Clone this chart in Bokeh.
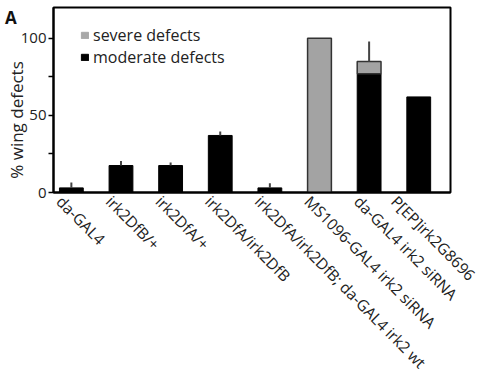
from bokeh.plotting import figure
from bokeh.models import Range1d, FixedTicker, Legend, LegendItem, Div
from bokeh.layouts import column
from bokeh.embed import file_html
from bokeh.resources import INLINE

categories = ["da-GAL4", "irk2DfB/+", "irk2DfA/+", "irk2DfA/irk2DfB",
              "irk2DfA/irk2DfB; da-GAL4 irk2 wt", "MS1096-GAL4 irk2 siRNA",
              "da-GAL4 irk2 siRNA", "P[EP]irk2G8696"]
moderate = [3, 17.5, 17.5, 37, 3, 0, 77, 62]
severe = [0, 0, 0, 0, 0, 100, 8, 0]
error = [3.5, 3, 2, 2.5, 3, 0, 13, 0]
y_ticks = [0, 50, 100]
y_minor = [25, 75]
y_title = "% wing defects"
panel_letter = "A"

FONT = "Open Sans"
xs = list(range(len(categories)))
totals = [m + s for m, s in zip(moderate, severe)]

p = figure(frame_width=397, frame_height=185, output_backend="svg",
           toolbar_location=None, x_range=Range1d(-0.36, 7.64),
           y_range=Range1d(0, 120), min_border_left=53, min_border_top=7,
           min_border_right=30, min_border_bottom=150)
p.border_fill_alpha = 0
p.xgrid.visible = False
p.ygrid.visible = False
p.outline_line_color = "black"
p.outline_line_width = 2

p.vbar(x=xs, top=moderate, bottom=0, width=0.48, fill_color="black",
       line_color="black", line_width=1)
sev_x = [x for x, s in zip(xs, severe) if s > 0]
sev_b = [m for m, s in zip(moderate, severe) if s > 0]
sev_t = [m + s for m, s in zip(moderate, severe) if s > 0]
p.vbar(x=sev_x, top=sev_t, bottom=sev_b, width=0.48, fill_color="#a3a3a3",
       line_color="#333333", line_width=1.5)
ex = [x for x, e in zip(xs, error) if e > 0]
e0 = [t for t, e in zip(totals, error) if e > 0]
e1 = [t + e for t, e in zip(totals, error) if e > 0]
p.segment(x0=ex, y0=e0, x1=ex, y1=e1, line_color="#444444", line_width=2)

leg_sev = p.vbar(x=[-5], top=[1], width=0.1, fill_color="#a8a8a8",
                 line_color="#a8a8a8")
leg_mod = p.vbar(x=[-5], top=[1], width=0.1, fill_color="black",
                 line_color="black")
legend = Legend(items=[LegendItem(label="severe defects", renderers=[leg_sev]),
                       LegendItem(label="moderate defects", renderers=[leg_mod])],
                location=(27, 124), padding=3, spacing=-2, margin=0,
                glyph_width=9, glyph_height=8, label_standoff=4, label_height=18,
                label_text_font=FONT, label_text_font_size="16px",
                label_text_line_height=1.0,
                label_text_color="#222222", background_fill_alpha=0,
                border_line_color=None)
p.add_layout(legend, "center")

ya = p.yaxis[0]
ya.ticker = FixedTicker(ticks=y_ticks, minor_ticks=y_minor)
ya.major_label_text_font = FONT
ya.major_label_text_font_size = "15px"
ya.major_label_text_color = "#222222"
ya.major_label_standoff = 2
ya.major_tick_out = 5
ya.major_tick_in = 0
ya.minor_tick_out = 5
ya.minor_tick_in = 0
ya.axis_line_width = 2
ya.major_tick_line_width = 1.5
ya.minor_tick_line_width = 1.5

LABEL_SHIFT = -0.24
xa = p.xaxis[0]
xa.ticker = FixedTicker(ticks=[x + LABEL_SHIFT for x in xs])
xa.major_label_overrides = {x + LABEL_SHIFT: c for x, c in zip(xs, categories)}
xa.major_label_orientation = -0.79
xa.major_label_text_font = FONT
xa.major_label_text_font_size = "15.5px"
xa.major_label_text_color = "#222222"
xa.major_label_standoff = 0
xa.major_tick_line_color = None
xa.minor_tick_line_color = None
xa.axis_line_width = 2

html = (
    '<div style="position:relative;width:100px;height:200px;">'
    '<span style="position:absolute;left:5px;top:10px;line-height:16px;'
    "font-family:'Open Sans';font-weight:bold;font-size:17px;color:#111;\">"
    + panel_letter + '</span>'
    '<span style="position:absolute;display:block;left:-63px;top:110px;'
    'width:160px;height:20px;line-height:20px;text-align:center;'
    "white-space:nowrap;font-family:'Open Sans';font-size:17px;color:#222;"
    'transform:rotate(-90deg);">' + y_title + '</span></div>'
)
div = Div(text=html, width=100, height=200, margin=(0, 0, -200, 0))

page = column(div, p, spacing=0)
open("out.html", "w").write(file_html(page, INLINE))
